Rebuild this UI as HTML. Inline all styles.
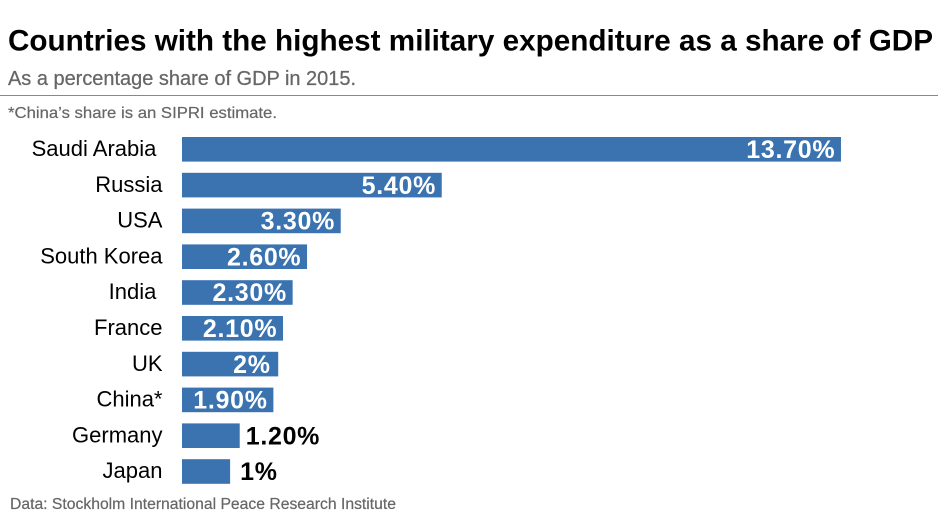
<!DOCTYPE html>
<html>
<head>
<meta charset="utf-8">
<style>
html,body{margin:0;padding:0;background:#fff;}
svg{display:block;}
text{font-family:"Liberation Sans",sans-serif;white-space:pre;}
</style>
</head>
<body>
<svg id="chart" xmlns="http://www.w3.org/2000/svg" width="940" height="512" viewBox="0 0 940 512">
<rect x="0" y="0" width="940" height="512" fill="#ffffff"/>
<text x="8" y="50.5" font-size="30" font-weight="bold" fill="#000" textLength="925" lengthAdjust="spacingAndGlyphs">Countries with the highest military expenditure as a share of GDP</text>
<text x="8" y="85" font-size="20" fill="#666" stroke="#666" stroke-width="0.25" textLength="348" lengthAdjust="spacingAndGlyphs">As a percentage share of GDP in 2015.</text>
<line x1="0" y1="95.5" x2="938" y2="95.5" stroke="#888" stroke-width="1"/>
<text x="8" y="118" font-size="16" fill="#666" stroke="#666" stroke-width="0.2" textLength="269" lengthAdjust="spacingAndGlyphs">*China’s share is an SIPRI estimate.</text>
<g id="bars"></g>
<text x="10" y="509" font-size="15.5" fill="#666" stroke="#666" stroke-width="0.2" textLength="386" lengthAdjust="spacingAndGlyphs">Data: Stockholm International Peace Research Institute</text>
</svg>
<script>
const categories = ["Saudi Arabia\u00a0","Russia","USA","South Korea","India\u00a0","France","UK","China*","Germany","Japan"];
const values = [13.7,5.4,3.3,2.6,2.3,2.1,2,1.9,1.2,1];
const valueLabels = ["13.70%","5.40%","3.30%","2.60%","2.30%","2.10%","2%","1.90%","1.20%","1%"];

const NS = "http://www.w3.org/2000/svg";
const x0 = 182, pxPerUnit = 48.1, firstY = 137, stepY = 35.8, barH = 24.6;
const xScale = v => v * pxPerUnit;
const yScale = i => firstY + i * stepY;
const group = document.getElementById("bars");

categories.forEach((cat, i) => {
  const w = xScale(values[i]);
  const y = yScale(i);

  const rect = document.createElementNS(NS, "rect");
  
  
  rect.setAttribute("x", x0);
  rect.setAttribute("y", y);
  rect.setAttribute("width", w);
  rect.setAttribute("height", barH);
  rect.setAttribute("fill", "#3a73b0");
  group.appendChild(rect);

  const label = document.createElementNS(NS, "text");
  
  
  label.setAttribute("x", 162.5);
  label.setAttribute("y", y + 19);
  label.setAttribute("text-anchor", "end");
  label.setAttribute("font-size", "22");
  label.setAttribute("fill", "#000");
  label.textContent = cat;
  group.appendChild(label);

  const inside = values[i] >= 1.5;
  const shortLabel = valueLabels[i].length === 2;
  const val = document.createElementNS(NS, "text");
  
  
  val.setAttribute("x", inside ? x0 + w - (shortLabel ? 7.5 : 5.7) : x0 + w + (shortLabel ? 10 : 6));
  val.setAttribute("y", y + 21);
  val.setAttribute("text-anchor", inside ? "end" : "start");
  val.setAttribute("font-size", "25");
  val.setAttribute("letter-spacing", "0.7");
  val.setAttribute("font-weight", "bold");
  val.setAttribute("fill", inside ? "#fff" : "#000");
  val.textContent = valueLabels[i];
  group.appendChild(val);
});
</script>
</body>
</html>
